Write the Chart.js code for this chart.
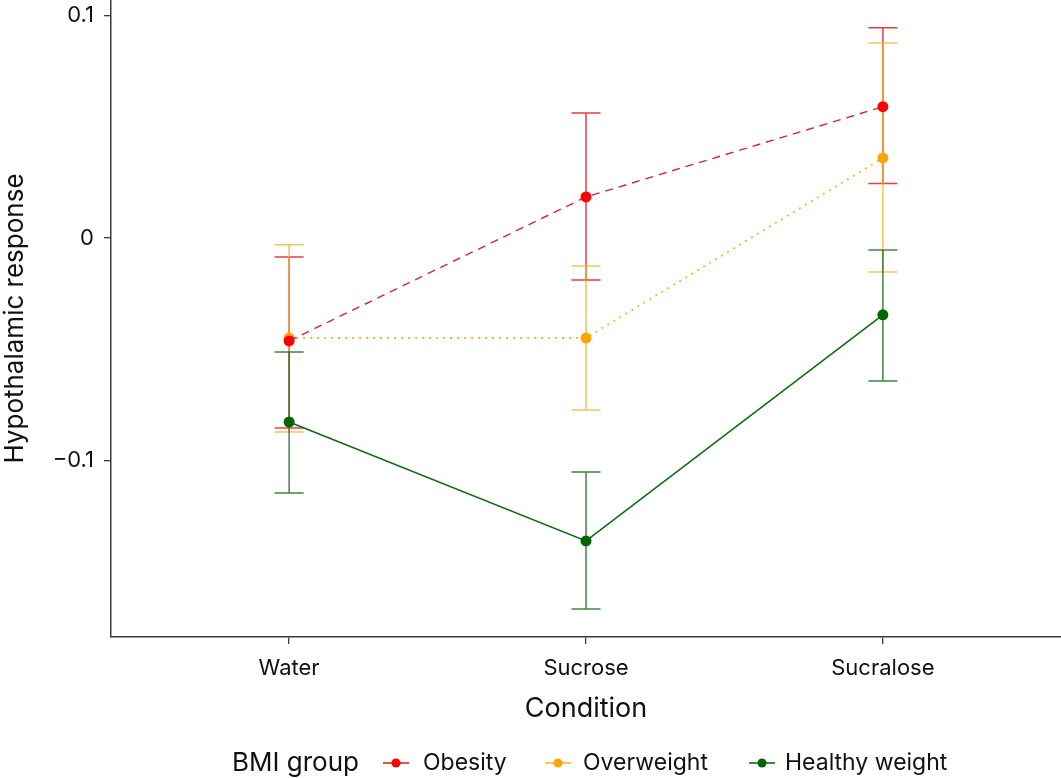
<!DOCTYPE html>
<html>
<head>
<meta charset="utf-8">
<script src="https://cdn.jsdelivr.net/npm/chart.js@4.4.1/dist/chart.umd.min.js"></script>
<style>
  html, body { margin: 0; padding: 0; background: #fff; }
  canvas { display: block; }
</style>
</head>
<body>
<canvas id="myChart" width="1061" height="778"></canvas>
<script>
// conditions on the x axis (placed at 1, 2, 3)
const conditions = ['Water', 'Sucrose', 'Sucralose'];
const conditionPos = [1, 2, 3];
const groups = ['Obesity', 'Overweight', 'Healthy weight'];

// means
const obesityMean = [-0.0462, 0.0184, 0.0589];
const overweightMean = [-0.0449, -0.0449, 0.0359];
const healthyMean = [-0.0826, -0.1360, -0.0345];

// error bar upper / lower limits
const obesityHigh = [-0.0085, 0.0561, 0.0943];
const obesityLow = [-0.0853, -0.0189, 0.0244];
const overweightHigh = [-0.0031, -0.0126, 0.0875];
const overweightLow = [-0.0871, -0.0772, -0.0153];
const healthyHigh = [-0.0512, -0.1050, -0.0054];
const healthyLow = [-0.1145, -0.1665, -0.0642];

const yTicks = [-0.1, 0, 0.1];
const yTickLabels = ['\u22120.1', '0', '0.1'];

const FONT = 'Inter, "Noto Sans", sans-serif';
const AXIS_COL = '#3a3a3a';

function pts(means) {
  return means.map((m, i) => ({ x: conditionPos[i], y: m }));
}

const styles = [
  { line: '#d7262b', point: '#ff0000', bar: 'rgba(220,30,35,0.85)', dash: [8, 6], width: 1.4 },
  { line: '#f2b630', point: '#ffa500', bar: 'rgba(240,175,30,0.75)', dash: [2, 5], width: 1.8 },
  { line: '#0b6a0b', point: '#006400', bar: 'rgba(20,100,20,0.8)', dash: [], width: 1.5 }
];

const means = [obesityMean, overweightMean, healthyMean];
const highs = [obesityHigh, overweightHigh, healthyHigh];
const lows = [obesityLow, overweightLow, healthyLow];

// error bars, drawn under the lines and points
const errorBars = {
  id: 'errorBars',
  beforeDatasetsDraw(chart) {
    const ctx = chart.ctx;
    const xs = chart.scales.x, ys = chart.scales.y;
    ctx.save();
    ctx.lineWidth = 1.5;
    for (let g = 0; g < groups.length; g++) {
      ctx.strokeStyle = styles[g].bar;
      for (let i = 0; i < conditionPos.length; i++) {
        const px = xs.getPixelForValue(conditionPos[i]);
        const top = ys.getPixelForValue(highs[g][i]);
        const bot = ys.getPixelForValue(lows[g][i]);
        ctx.beginPath();
        ctx.moveTo(px, top); ctx.lineTo(px, bot);
        ctx.moveTo(px - 14.5, top); ctx.lineTo(px + 14.5, top);
        ctx.moveTo(px - 14.5, bot); ctx.lineTo(px + 14.5, bot);
        ctx.stroke();
      }
    }
    ctx.restore();
  }
};

// legend in one row: title then keys
const bottomLegend = {
  id: 'bottomLegend',
  afterDraw(chart) {
    const ctx = chart.ctx;
    const cy = 763;
    ctx.save();
    ctx.textBaseline = 'middle';
    ctx.fillStyle = '#111';
    ctx.font = '26px ' + FONT;
    ctx.fillText('BMI group', 232, cy);
    const keyX = [383, 545, 749];
    const textX = [423, 583, 785];
    ctx.font = '23px ' + FONT;
    for (let g = 0; g < groups.length; g++) {
      const x0 = keyX[g];
      ctx.strokeStyle = styles[g].line;
      ctx.lineWidth = 1.6;
      ctx.setLineDash([]);
      ctx.beginPath();
      ctx.moveTo(x0, cy); ctx.lineTo(x0 + 26, cy);
      ctx.stroke();
      ctx.fillStyle = styles[g].point;
      ctx.beginPath();
      ctx.arc(x0 + 13, cy, 4.5, 0, Math.PI * 2);
      ctx.fill();
      ctx.fillStyle = '#111';
      ctx.fillText(groups[g], textX[g], cy);
    }
    ctx.restore();
  }
};

const datasets = groups.map((name, g) => ({
  label: name,
  data: pts(means[g]),
  borderColor: styles[g].line,
  borderWidth: styles[g].width,
  borderDash: styles[g].dash,
  backgroundColor: styles[g].point,
  pointBackgroundColor: styles[g].point,
  pointBorderWidth: 0,
  pointRadius: 5.5,
  pointHoverRadius: 5.5,
  fill: false,
  tension: 0,
  clip: false
}));

function noPadding(scale) {
  scale.paddingTop = 0;
  scale.paddingBottom = 0;
  scale.paddingLeft = 0;
  scale.paddingRight = 0;
}

const myChart = new Chart(document.getElementById('myChart'), {
  type: 'line',
  data: { datasets: datasets },
  plugins: [errorBars, bottomLegend],
  options: {
    responsive: false,
    animation: false,
    layout: { padding: 0, autoPadding: false },
    plugins: {
      legend: { display: false },
      tooltip: { enabled: false }
    },
    scales: {
      x: {
        type: 'linear',
        min: 0.4,
        max: 3.6,
        afterBuildTicks(scale) { scale.ticks = conditionPos.map(v => ({ value: v })); },
        afterFit(scale) { scale.height = 141; noPadding(scale); },
        ticks: {
          callback: (v) => conditions[conditionPos.indexOf(v)],
          font: { family: FONT, size: 22 },
          color: '#111',
          padding: 11,
          maxRotation: 0
        },
        grid: { drawOnChartArea: false, drawTicks: true, tickLength: 7, color: AXIS_COL, lineWidth: 1.3 },
        border: { display: true, color: AXIS_COL, width: 1.5 },
        title: {
          display: true,
          text: 'Condition',
          font: { family: FONT, size: 27 },
          color: '#111',
          padding: { top: 4, bottom: 53 }
        }
      },
      y: {
        min: -0.1791,
        max: 0.1068,
        afterBuildTicks(scale) { scale.ticks = yTicks.map(v => ({ value: v })); },
        afterFit(scale) { scale.width = 111; noPadding(scale); },
        ticks: {
          callback: (v) => yTickLabels[yTicks.indexOf(v)],
          font: { family: FONT, size: 22 },
          color: '#111',
          padding: 10
        },
        grid: { drawOnChartArea: false, drawTicks: true, tickLength: 7, color: AXIS_COL, lineWidth: 1.3 },
        border: { display: true, color: AXIS_COL, width: 1.5 },
        title: {
          display: true,
          text: 'Hypothalamic response',
          font: { family: FONT, size: 26 },
          color: '#111',
          padding: { top: 0, bottom: 0 }
        }
      }
    }
  }
});
</script>
</body>
</html>
